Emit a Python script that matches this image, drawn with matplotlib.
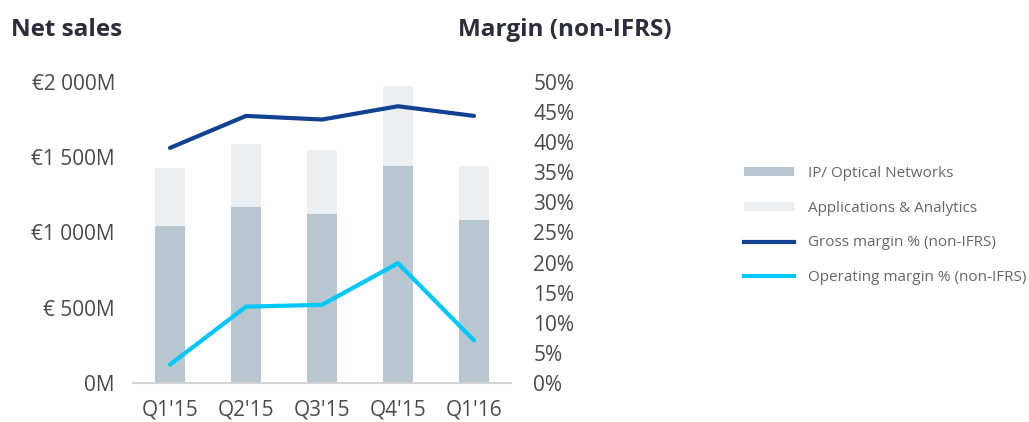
import numpy as np
import matplotlib
matplotlib.use("Agg")
import matplotlib.pyplot as plt
from matplotlib.patches import Patch
from matplotlib.lines import Line2D

quarters = ["Q1'15", "Q2'15", "Q3'15", "Q4'15", "Q1'16"]
ip_optical = [1044, 1169, 1124, 1442, 1084]
apps_analytics = [385, 417, 422, 528, 358]
gross_margin = [39.0, 44.3, 43.7, 45.9, 44.3]
operating_margin = [3.1, 12.7, 13.0, 19.9, 7.1]

sales_ticks = [0, 500, 1000, 1500, 2000]
sales_labels = ["0M", "€ 500M", "€1 000M", "€1 500M", "€2 000M"]
margin_ticks = list(range(0, 55, 5))

plt.rcParams['font.family'] = ['Open Sans', 'DejaVu Sans']

C_IP = "#b8c6d0"
C_AA = "#ebeff2"
C_GROSS = "#124191"
C_OPER = "#00c8fa"
C_TEXT = "#4a4a4a"
C_TITLE = "#2d2d3c"

fig = plt.figure(figsize=(10.29, 4.22), dpi=100)
ax = fig.add_axes([133 / 1029, 1 - 383.3 / 422, (511 - 133) / 1029, 301.8 / 422])

x = np.arange(len(quarters))
ax.bar(x, ip_optical, width=0.395, color=C_IP, zorder=2)
ax.bar(x, apps_analytics, width=0.395, bottom=ip_optical, color=C_AA, zorder=2)
ax.set_xlim(-0.487, 4.487)
ax.set_ylim(0, 2000)

ax.set_yticks(sales_ticks)
ax.set_yticklabels(sales_labels)
ax.set_xticks(x)
ax.set_xticklabels(quarters)
ax.tick_params(axis='both', length=0, labelsize=15, labelcolor=C_TEXT)
ax.tick_params(axis='y', pad=13)
ax.tick_params(axis='x', pad=12)
for s in ['top', 'right', 'left']:
    ax.spines[s].set_visible(False)
ax.spines['bottom'].set_color("#d4d4d4")
ax.spines['bottom'].set_linewidth(1.5)

ax2 = ax.twinx()
ax2.plot(x, gross_margin, color=C_GROSS, lw=3, solid_capstyle='round', zorder=3)
ax2.plot(x, operating_margin, color=C_OPER, lw=3, solid_capstyle='round', zorder=3)
ax2.set_ylim(0, 50)
ax2.set_yticks(margin_ticks)
ax2.set_yticklabels([f"{t}%" for t in margin_ticks])
ax2.tick_params(axis='y', length=0, labelsize=15, labelcolor=C_TEXT, pad=16)
for s in ['top', 'right', 'left', 'bottom']:
    ax2.spines[s].set_visible(False)

fig.text(11 / 1029, 1 - 30 / 422, "Net sales", fontsize=17.5, fontweight='bold',
         color=C_TITLE, va='center', ha='left')
fig.text(458 / 1029, 1 - 30 / 422, "Margin (non-IFRS)", fontsize=17.5, fontweight='bold',
         color=C_TITLE, va='center', ha='left')

handles = [
    Patch(facecolor=C_IP, edgecolor='none'),
    Patch(facecolor=C_AA, edgecolor='none'),
    Line2D([], [], color=C_GROSS, lw=3),
    Line2D([], [], color=C_OPER, lw=3),
]
labels = ["IP/ Optical Networks", "Applications & Analytics",
          "Gross margin % (non-IFRS)", "Operating margin % (non-IFRS)"]
fig.legend(handles, labels, loc='upper left', bbox_to_anchor=(730 / 1029, 1 - 152 / 422),
           frameon=False, fontsize=11, labelcolor="#666666", handlelength=3.3,
           handleheight=0.5, handletextpad=0.9, labelspacing=1.3)

fig.savefig("out.png", dpi=100, facecolor='white')
